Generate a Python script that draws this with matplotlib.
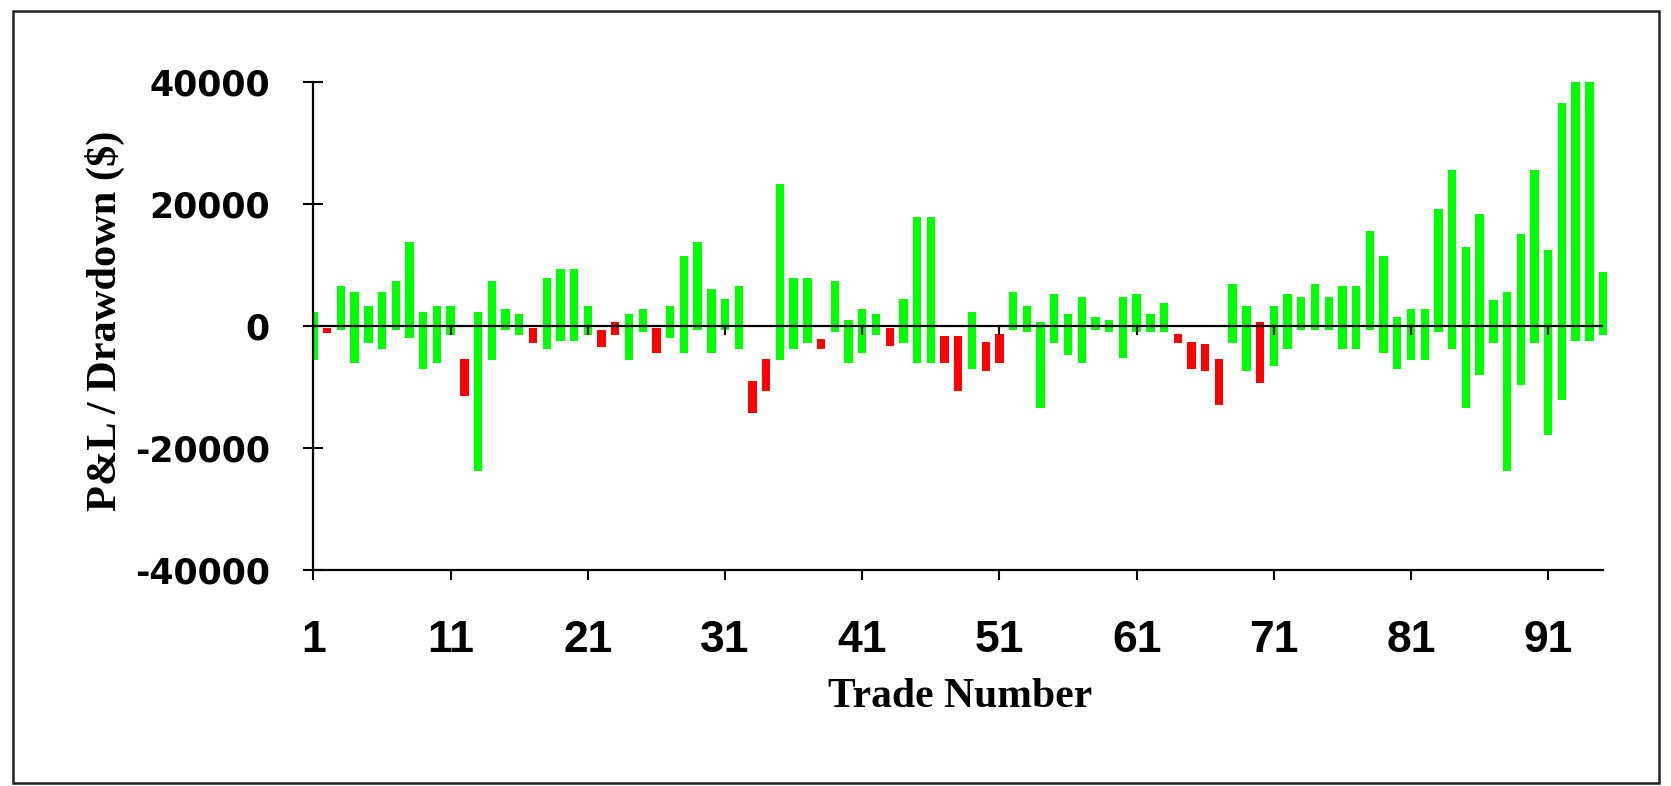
import numpy as np
import matplotlib
matplotlib.use("Agg")
import matplotlib.pyplot as plt
from matplotlib.patches import Rectangle

plt.rcParams['axes.unicode_minus'] = False

# best (high) and worst (low) point of each trade, in $
trades = np.arange(1, 96)
highs = [2400, -200, 6600, 5700, 3400, 5700, 7500, 13900, 2400, 3400,
         3400, -5300, 2400, 7500, 2900, 2000, -200, 8000, 9400, 9400,
         3400, -600, 700, 2000, 2900, -200, 3400, 11600, 13900, 6100,
         4400, 6600, -8900, -5300, 23400, 8000, 8000, -2000, 7500, 1100,
         2900, 2000, -200, 4400, 18000, 18000, -1600, -1600, 2400, -2500,
         -1200, 5700, 3400, 700, 5300, 2000, 4800, 1500, 1100, 4800,
         5300, 2000, 3900, -1200, -2500, -2900, -5300, 7000, 3400, 700,
         3400, 5300, 4800, 7000, 4800, 6600, 6600, 15700, 11600, 1500,
         2900, 2900, 19300, 25700, 13000, 18400, 4300, 5700, 15200, 25700,
         12500, 36600, 40000, 40000, 8900]
lows = [-5600, -1100, -600, -6000, -2800, -3800, -600, -1900, -7000, -6000,
        -1500, -11500, -23800, -5600, -600, -1500, -2800, -3800, -2400, -2400,
        -1500, -3400, -1500, -5600, -1000, -4300, -1900, -4300, -600, -4300,
        -600, -3800, -14200, -10600, -5600, -3800, -2800, -3800, -1000, -6000,
        -4300, -1500, -3300, -2800, -6000, -6000, -6000, -10600, -7000, -7400,
        -6000, -600, -1000, -13400, -2800, -4700, -6000, -600, -1000, -5200,
        -1000, -1000, -1000, -2800, -7000, -7400, -12900, -2800, -7400, -9300,
        -6500, -3800, -600, -600, -600, -3800, -3800, -600, -4300, -7000,
        -5600, -5600, -1000, -3800, -13400, -7900, -2800, -23800, -9700, -2800,
        -17800, -12000, -2400, -2400, -1500]
losers = [2, 12, 17, 22, 23, 26, 33, 34, 38, 43, 47, 48, 50, 51,
          64, 65, 66, 67, 70]

yticks = [-40000, -20000, 0, 20000, 40000]
xticks = [1, 11, 21, 31, 41, 51, 61, 71, 81, 91]

highs = np.array(highs)
lows = np.array(lows)
colors = ['#ff0000' if t in losers else '#00ff00' for t in trades]

fig = plt.figure(figsize=(16.71, 7.86), dpi=100)
ax = fig.add_axes([0.1876, 0.2744, 0.9619 - 0.1876, 0.8953 - 0.2744])

ax.bar(trades, highs - lows, bottom=lows, width=0.61, color=colors,
       edgecolor='none', zorder=2)
ax.hlines(0, 1, 95, color='black', lw=1.6, zorder=3)
ax.vlines(xticks, -1500, 0, color='black', lw=1.5, zorder=3)

ax.set_xlim(1, 95.31)
ax.set_ylim(-40000, 40000)
ax.set_xticks(xticks)
ax.set_yticks(yticks)
ax.set_yticklabels([str(v) for v in yticks],
                   fontfamily='DejaVu Sans', fontweight='bold', fontsize=25)
ax.set_xticklabels([str(v) for v in xticks],
                   fontfamily='Liberation Sans', fontweight='bold', fontsize=32)

for s in ['top', 'right']:
    ax.spines[s].set_visible(False)
for s in ['left', 'bottom']:
    ax.spines[s].set_linewidth(1.6)
ax.spines['bottom'].set_bounds(1, 95)
ax.tick_params(axis='y', direction='inout', length=15, width=1.5, pad=24)
ax.tick_params(axis='x', direction='out', length=7, width=1.5, pad=29)

fig.text(0.5745, 1 - 707 / 786, 'Trade Number', ha='center', va='baseline',
         fontfamily='Liberation Serif', fontweight='bold', fontsize=30)
fig.text(0.0628, 1 - 321 / 786, 'P&L / Drawdown ($)', ha='center',
         va='center', rotation=90,
         fontfamily='Liberation Serif', fontweight='bold', fontsize=30.5)

fig.patches.append(Rectangle((13 / 1671, 3 / 786), 1646 / 1671, 772 / 786,
                             transform=fig.transFigure, fill=False,
                             edgecolor='#222222', lw=1.8))

fig.savefig('out.png', dpi=100)
